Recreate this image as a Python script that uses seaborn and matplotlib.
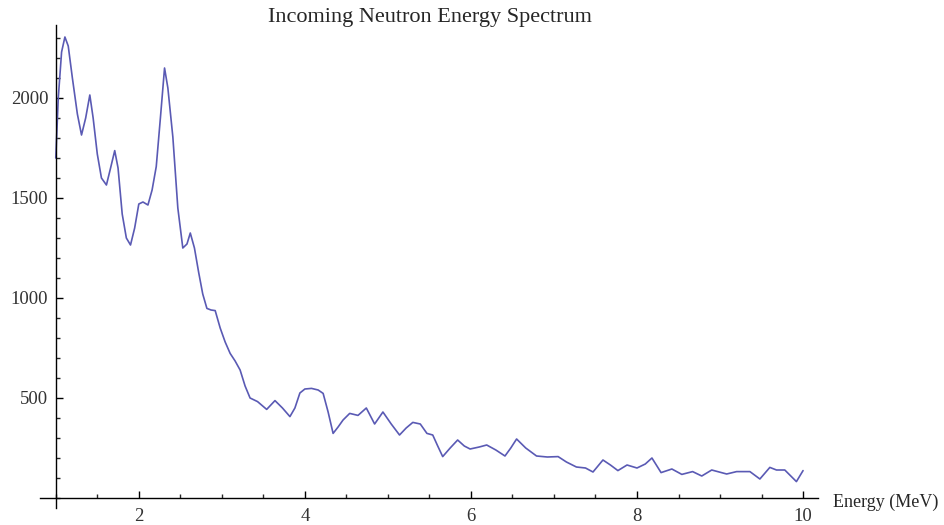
import matplotlib
matplotlib.use("Agg")
import matplotlib.pyplot as plt
import seaborn as sns
import pandas as pd
from matplotlib.ticker import MultipleLocator, FixedLocator

energy = [1.00, 1.03, 1.07, 1.11, 1.15, 1.20, 1.26, 1.31, 1.36, 1.41, 1.45, 1.50,
          1.55, 1.61, 1.66, 1.71, 1.75, 1.80, 1.85, 1.90, 1.95, 2.00, 2.05, 2.11,
          2.16, 2.21, 2.26, 2.31, 2.35, 2.41, 2.47, 2.53, 2.58, 2.62, 2.67, 2.72,
          2.77, 2.82, 2.87, 2.92, 2.98, 3.04, 3.10, 3.16, 3.22, 3.28, 3.34, 3.43,
          3.54, 3.64, 3.73, 3.82, 3.88, 3.94, 4.00, 4.08, 4.16, 4.22, 4.28, 4.34,
          4.40, 4.46, 4.54, 4.64, 4.74, 4.84, 4.94, 5.04, 5.14, 5.22, 5.30, 5.39,
          5.47, 5.54, 5.60, 5.66, 5.75, 5.84, 5.92, 5.99, 6.10, 6.19, 6.30, 6.41,
          6.48, 6.55, 6.66, 6.79, 6.92, 7.05, 7.15, 7.27, 7.38, 7.47, 7.59, 7.68,
          7.77, 7.88, 8.00, 8.10, 8.18, 8.29, 8.42, 8.54, 8.67, 8.78, 8.90, 9.08,
          9.20, 9.36, 9.48, 9.60, 9.68, 9.78, 9.92, 10.00]
counts = [1700, 2000, 2230, 2305, 2260, 2100, 1920, 1815, 1900, 2015, 1900, 1720,
          1600, 1565, 1650, 1737, 1650, 1420, 1300, 1265, 1350, 1470, 1480, 1465,
          1540, 1657, 1900, 2150, 2050, 1805, 1450, 1250, 1270, 1325, 1250, 1130,
          1020, 948, 940, 937, 850, 780, 723, 685, 640, 560, 500, 482,
          443, 487, 450, 407, 450, 525, 545, 548, 540, 523, 430, 323,
          355, 390, 423, 413, 450, 370, 430, 370, 315, 350, 378, 370,
          323, 315, 260, 207, 250, 290, 260, 245, 255, 265, 240, 210,
          250, 295, 250, 210, 205, 207, 180, 155, 150, 130, 190, 165,
          137, 165, 150, 170, 200, 127, 145, 118, 132, 110, 140, 120,
          132, 132, 95, 153, 140, 140, 82, 137]

x_major = [2, 4, 6, 8, 10]
y_major = [500, 1000, 1500, 2000]

title = "Incoming Neutron Energy Spectrum"
xlabel = "Energy (MeV)"

sns.set_theme(style="ticks")
plt.rcParams['font.family'] = ['Liberation Serif', 'DejaVu Serif']

df = pd.DataFrame({"energy": energy, "counts": counts})

fig = plt.figure(figsize=(9.45, 5.25), dpi=100)
ax = fig.add_axes([40/945, 1-508/525, (818-40)/945, (508-25)/525])

sns.lineplot(data=df, x="energy", y="counts", ax=ax, color="#5a5ab4",
             linewidth=1.2, estimator=None, sort=False)

ax.set_xlim(0.81, 10.18)
ax.set_ylim(-50, 2365)

for s in ["top", "right"]:
    ax.spines[s].set_visible(False)
ax.spines["left"].set_position(("data", 1))
ax.spines["bottom"].set_position(("data", 0))
for s in ["left", "bottom"]:
    ax.spines[s].set_linewidth(1.0)
    ax.spines[s].set_color("black")

ax.xaxis.set_major_locator(FixedLocator(x_major))
ax.xaxis.set_minor_locator(MultipleLocator(0.5))
ax.yaxis.set_major_locator(FixedLocator(y_major))
ax.yaxis.set_minor_locator(MultipleLocator(100))

ax.tick_params(axis="both", which="major", direction="in", length=5, width=1,
               labelsize=13.5, colors="black", labelcolor="#333333")
ax.tick_params(axis="both", which="minor", direction="in", length=2.8, width=1)
ax.tick_params(axis="x", which="major", pad=7.5)
ax.tick_params(axis="y", which="major", pad=5.5)

ax.set_xlabel("")
ax.set_ylabel("")
ax.set_title("")
fig.text(430/945, 1-22/525, title, ha="center", va="baseline", fontsize=16)
fig.text(833/945, 1-507/525, xlabel, ha="left", va="baseline", fontsize=13)

fig.savefig("out.png", dpi=100)
